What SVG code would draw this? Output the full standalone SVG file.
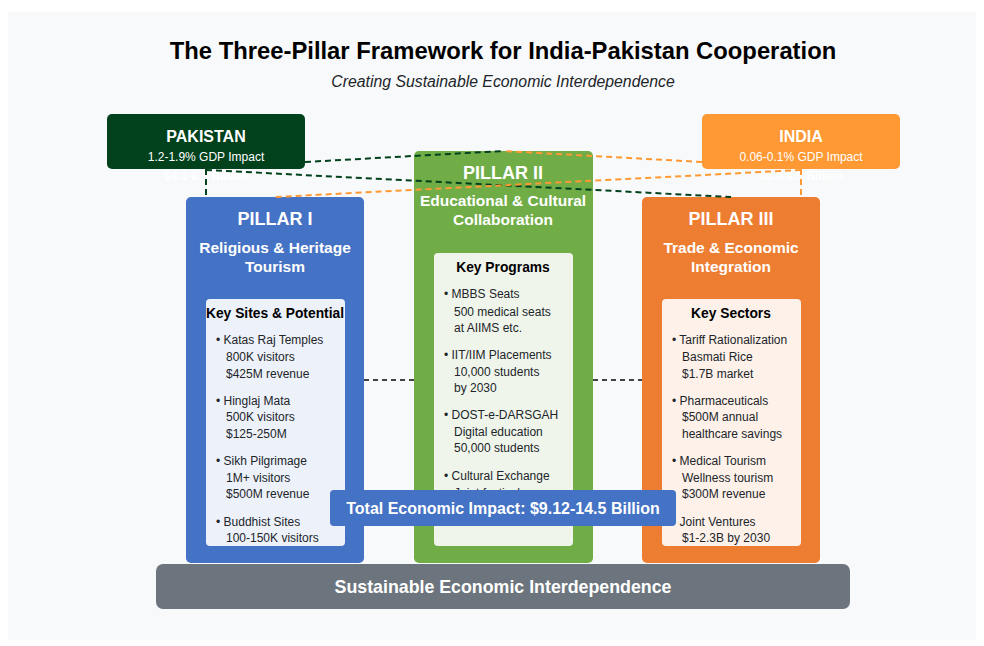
<svg xmlns="http://www.w3.org/2000/svg" width="984" height="646" viewBox="0 0 984 646">
<defs>
<style>
text{font-family:"Liberation Sans",Arial,sans-serif;}
.w{fill:#ffffff;}
.b{font-weight:bold;}
.c{text-anchor:middle;}
.t{font-size:12px;fill:#212529;}
.kh{font-size:13.8px;font-weight:bold;fill:#000;text-anchor:middle;}
.ph{font-size:18px;font-weight:bold;fill:#fff;text-anchor:middle;}
.ps{font-size:15.5px;font-weight:bold;fill:#fff;text-anchor:middle;}
.dg{stroke:#01411c;stroke-width:2;stroke-dasharray:6 4;fill:none;}
.or{stroke:#ff9933;stroke-width:2;stroke-dasharray:6 4;fill:none;}
.gr{stroke:#444;stroke-width:2;stroke-dasharray:5 4;fill:none;}
</style>
</defs>
<rect x="8" y="12" width="968" height="628" fill="#f8f9fa"/>
<text x="503" y="59" class="c b" font-size="23.8" fill="#000">The Three-Pillar Framework for India-Pakistan Cooperation</text>
<text x="503" y="87" class="c" font-size="15.8" font-style="italic" fill="#212529">Creating Sustainable Economic Interdependence</text>

<g id="pillar1">
<rect x="186" y="197" width="178" height="366" rx="5" fill="#4472c4"/>
<text x="275" y="225" class="ph">PILLAR I</text>
<text x="275" y="253" class="ps">Religious &amp; Heritage</text>
<text x="275" y="272" class="ps">Tourism</text>
<rect x="206" y="299" width="139" height="247" rx="4" fill="#edf1fa"/>
<text x="275" y="318" class="kh">Key Sites &amp; Potential</text>
<text x="216" y="344" class="t">• Katas Raj Temples</text>
<text x="226" y="361" class="t">800K visitors</text>
<text x="226" y="378" class="t">$425M revenue</text>
<text x="216" y="405" class="t">• Hinglaj Mata</text>
<text x="226" y="421" class="t">500K visitors</text>
<text x="226" y="438" class="t">$125-250M</text>
<text x="216" y="465" class="t">• Sikh Pilgrimage</text>
<text x="226" y="482" class="t">1M+ visitors</text>
<text x="226" y="498" class="t">$500M revenue</text>
<text x="216" y="526" class="t">• Buddhist Sites</text>
<text x="226" y="542" class="t">100-150K visitors</text>
</g>

<g id="pillar2">
<rect x="414" y="151" width="179" height="412" rx="5" fill="#70ad47"/>
<text x="503" y="179" class="ph">PILLAR II</text>
<text x="503" y="206" class="ps">Educational &amp; Cultural</text>
<text x="503" y="225" class="ps">Collaboration</text>
<rect x="434" y="253" width="139" height="293" rx="4" fill="#f0f5ec"/>
<text x="503" y="272" class="kh">Key Programs</text>
<text x="444" y="298" class="t">• MBBS Seats</text>
<text x="454" y="316" class="t">500 medical seats</text>
<text x="454" y="332" class="t">at AIIMS etc.</text>
<text x="444" y="359" class="t">• IIT/IIM Placements</text>
<text x="454" y="376" class="t">10,000 students</text>
<text x="454" y="392" class="t">by 2030</text>
<text x="444" y="419" class="t">• DOST-e-DARSGAH</text>
<text x="454" y="436" class="t">Digital education</text>
<text x="454" y="452" class="t">50,000 students</text>
<text x="444" y="480" class="t">• Cultural Exchange</text>
<text x="454" y="497" class="t">Joint festivals</text>
</g>

<g id="pillar3">
<rect x="642" y="197" width="178" height="366" rx="5" fill="#ed7d31"/>
<text x="731" y="225" class="ph">PILLAR III</text>
<text x="731" y="253" class="ps">Trade &amp; Economic</text>
<text x="731" y="272" class="ps">Integration</text>
<rect x="662" y="299" width="139" height="247" rx="4" fill="#fdf1ea"/>
<text x="731" y="318" class="kh">Key Sectors</text>
<text x="672" y="344" class="t">• Tariff Rationalization</text>
<text x="682" y="361" class="t">Basmati Rice</text>
<text x="682" y="378" class="t">$1.7B market</text>
<text x="672" y="405" class="t">• Pharmaceuticals</text>
<text x="682" y="421" class="t">$500M annual</text>
<text x="682" y="438" class="t">healthcare savings</text>
<text x="672" y="465" class="t">• Medical Tourism</text>
<text x="682" y="482" class="t">Wellness tourism</text>
<text x="682" y="498" class="t">$300M revenue</text>
<text x="672" y="526" class="t">• Joint Ventures</text>
<text x="682" y="542" class="t">$1-2.3B by 2030</text>
</g>

<g id="pakistan">
<rect x="107" y="114" width="198" height="55" rx="5" fill="#01411c"/>
<text x="206" y="142" class="w b c" font-size="16">PAKISTAN</text>
<text x="206" y="161" class="w c" font-size="12">1.2-1.9% GDP Impact</text>
<text x="206" y="180" class="w b c" font-size="12">$4.1-6.5 Billion</text>
</g>

<g id="india">
<rect x="702" y="114" width="198" height="55" rx="5" fill="#ff9933"/>
<text x="801" y="142" class="w b c" font-size="16">INDIA</text>
<text x="801" y="161" class="w c" font-size="12">0.06-0.1% GDP Impact</text>
<text x="801" y="180" class="w b c" font-size="12">$5.0-8.0 Billion</text>
</g>

<g id="connectors">
<line x1="206" y1="169" x2="206" y2="197" class="dg"/>
<line x1="305" y1="162" x2="503" y2="151" class="dg"/>
<line x1="206" y1="170" x2="731" y2="197" class="dg"/>
<line x1="801" y1="169" x2="801" y2="197" class="or"/>
<line x1="702" y1="162" x2="503" y2="151" class="or"/>
<line x1="801" y1="170" x2="275" y2="197" class="or"/>
<line x1="364" y1="380" x2="414" y2="380" class="gr"/>
<line x1="593" y1="380" x2="642" y2="380" class="gr"/>
</g>

<g id="total">
<rect x="330" y="490" width="346" height="36" rx="4" fill="#4472c4"/>
<text x="503" y="514" class="w b c" font-size="16">Total Economic Impact: $9.12-14.5 Billion</text>
</g>

<g id="base">
<rect x="156" y="564" width="694" height="45" rx="7" fill="#6c757d"/>
<text x="503" y="593" class="w b c" font-size="17.8">Sustainable Economic Interdependence</text>
</g>
</svg>
